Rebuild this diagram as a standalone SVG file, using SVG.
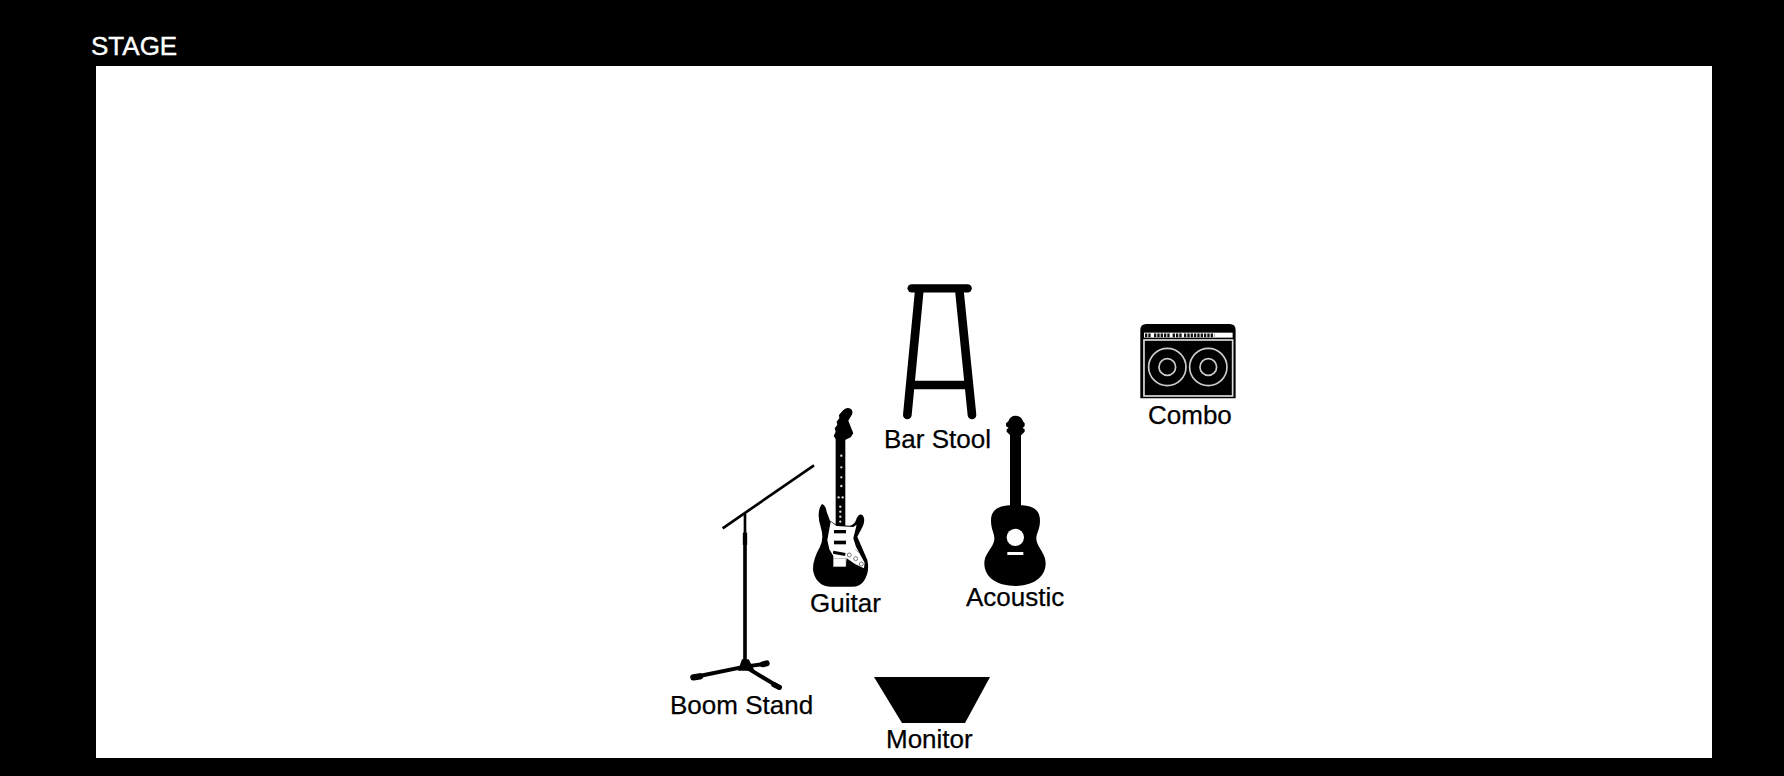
<svg xmlns="http://www.w3.org/2000/svg" width="1784" height="776" viewBox="0 0 1784 776">
<style>
text{font-family:"Liberation Sans",Arial,sans-serif;font-size:26px;fill:#000;stroke:#000;stroke-width:.25}
.k{fill:#000}
.w{fill:#fff}
.leg{stroke:#000;fill:none;stroke-linecap:round}
</style>
<rect width="1784" height="776" fill="#000"/>
<rect id="stage" x="96" y="66" width="1616" height="692" fill="#fff"/>
<text x="91" y="55" style="fill:#fff;stroke:#fff;stroke-width:.4">STAGE</text>

<g id="bar-stool">
<g class="leg" transform="translate(880,270) scale(.3333)">
<path d="M95 55H263" stroke-width="25"/>
<path d="M118 60L82 435M238 60L276 435" stroke-width="26"/>
<path d="M95 345H262" stroke-width="25" stroke-linecap="butt"/>
</g>
<text x="884" y="448">Bar Stool</text>
</g>

<g id="combo">
<g transform="translate(880,270) scale(.3333)">
<path class="k" d="M781 180Q781 162 799 162H1049Q1067 162 1067 180V385H781Z"/>
<rect x="792" y="210" width="266" height="168" fill="none" stroke="#ddd" stroke-width="5"/>
<rect class="w" x="792" y="188" width="266" height="15"/>
<path d="M795 196H815M822 196H872M878 196H905M912 196H1003" stroke="#111" stroke-width="11" stroke-dasharray="7 3" fill="none"/>
<g fill="none" stroke="#ccc" stroke-width="5">
<circle cx="862" cy="291" r="56"/><circle cx="862" cy="291" r="25"/>
<circle cx="985" cy="291" r="56"/><circle cx="985" cy="291" r="25"/>
</g>
</g>
<text x="1148" y="424">Combo</text>
</g>

<g id="boom-stand">
<g class="leg" transform="translate(660,390) scale(.3333)">
<path d="M188 415L462 226" stroke-width="8" stroke-linecap="butt"/>
<path d="M255 372V430" stroke-width="8" stroke-linecap="butt"/>
<path d="M255 428V465" stroke-width="13" stroke-linecap="butt"/>
<path d="M255 465V815" stroke-width="11" stroke-linecap="butt"/>
<path d="M255 830L100 862" stroke-width="12"/>
<path d="M100 862L120 859" stroke-width="19"/>
<path d="M255 830L358 892" stroke-width="12"/>
<path d="M342 884L358 892" stroke-width="16"/>
<path d="M255 830L318 821" stroke-width="12"/>
<path d="M308 823L320 820" stroke-width="18"/>
<path class="k" stroke="none" d="M246 808H266L284 842H234Z"/>
</g>
<text x="670" y="714">Boom Stand</text>
</g>

<g id="guitar">
<g transform="translate(660,390) scale(.3333)">
<path class="k" d="M528 148L521 138L527 125L524 115L532 105L530 95L538 85L537 75L548 62Q560 48 574 58Q582 68 572 80L565 92L580 130L572 142L555 150Z"/>
<rect class="k" x="527" y="140" width="29" height="280"/>
<path class="k" d="M486 342Q497 345 500 365L510 392L530 405L570 407Q585 405 590 385Q598 368 608 376Q618 390 607 412L592 440L622 510Q630 545 612 572Q602 590 575 590H510Q470 587 460 545Q455 515 480 470Q493 445 482 410Q468 365 486 342Z"/>
<path class="w" d="M512 395L530 408L580 411L590 404L580 445L588 470L614 518L612 535L585 522L560 505L556 530H520V498L508 478L502 450Z"/>
<g class="k">
<rect x="522" y="420" width="36" height="10"/>
<rect x="522" y="452" width="36" height="11"/>
<path d="M520 482L557 489L555 498L519 491Z"/>
</g>
<rect x="521" y="505" width="37" height="24" fill="#fff" stroke="#888" stroke-width="1.5"/>
<g fill="#fff" stroke="#777" stroke-width="3">
<circle cx="568" cy="495" r="6"/><circle cx="587" cy="506" r="6"/><circle cx="604" cy="522" r="6"/>
</g>
<path d="M586 478L596 488" stroke="#777" stroke-width="2"/>
<g fill="#ddd">
<circle cx="544" cy="197" r="3.5"/><circle cx="544" cy="232" r="3.5"/><circle cx="544" cy="262" r="3.5"/><circle cx="544" cy="288" r="3.5"/>
<circle cx="536" cy="322" r="3.5"/><circle cx="548" cy="322" r="3.5"/>
<circle cx="541" cy="350" r="3.5"/><circle cx="541" cy="365" r="3.5"/><circle cx="541" cy="380" r="3.5"/><circle cx="541" cy="395" r="3.5"/>
</g>
</g>
<text x="810" y="612">Guitar</text>
</g>

<g id="acoustic">
<g transform="translate(960,400) scale(.3333)">
<path class="k" d="M150 105L140 95V88L146 84L138 78V70L145 64Q150 47 167 47Q184 47 189 64L194 70V78L188 84L194 88V95L184 105Z"/>
<rect class="k" x="150" y="100" width="33" height="225"/>
<path class="k" d="M166 315C205 315 240 320 240 362C240 395 222 405 232 430C240 450 257 465 257 490C257 535 215 558 166 558C115 558 73 535 73 490C73 465 92 450 100 430C110 405 93 395 93 362C93 320 130 315 166 315Z"/>
<circle class="w" cx="166" cy="412" r="26"/>
<rect class="w" x="142" y="456" width="48" height="9"/>
</g>
<text x="966" y="606">Acoustic</text>
</g>

<g id="monitor">
<polygon class="k" points="874,677 990,677 965,723 902,723"/>
<text x="886" y="748">Monitor</text>
</g>
</svg>
